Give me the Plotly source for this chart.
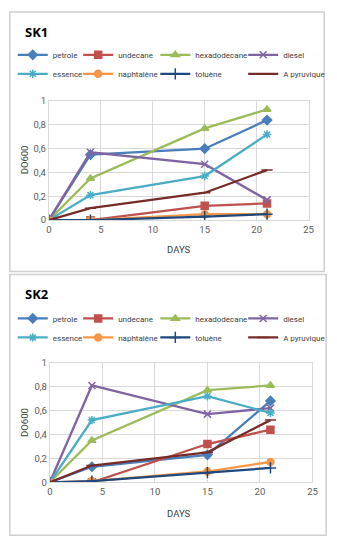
import plotly.graph_objects as go

days = [0, 4, 15, 21]
series_names = ["petrole", "undecane", "hexadodecane", "diesel",
                "essence", "naphtalène", "toluène", "A pyruvique"]

sk1_petrole = [0, 0.55, 0.60, 0.84]
sk1_undecane = [0, 0.0, 0.12, 0.14]
sk1_hexadodecane = [0, 0.35, 0.77, 0.93]
sk1_diesel = [0, 0.57, 0.47, 0.17]
sk1_essence = [0, 0.21, 0.37, 0.72]
sk1_naphtalene = [0, 0.0, 0.05, 0.05]
sk1_toluene = [0, 0.0, 0.03, 0.05]
sk1_pyruvique = [0, 0.10, 0.23, 0.42]

sk2_petrole = [0, 0.13, 0.23, 0.68]
sk2_undecane = [0, 0.0, 0.32, 0.44]
sk2_hexadodecane = [0, 0.35, 0.77, 0.81]
sk2_diesel = [0, 0.81, 0.57, 0.62]
sk2_essence = [0, 0.52, 0.72, 0.58]
sk2_naphtalene = [0, 0.01, 0.09, 0.17]
sk2_toluene = [0, 0.01, 0.08, 0.12]
sk2_pyruvique = [0, 0.14, 0.25, 0.52]

sk1 = [sk1_petrole, sk1_undecane, sk1_hexadodecane, sk1_diesel,
       sk1_essence, sk1_naphtalene, sk1_toluene, sk1_pyruvique]
sk2 = [sk2_petrole, sk2_undecane, sk2_hexadodecane, sk2_diesel,
       sk2_essence, sk2_naphtalene, sk2_toluene, sk2_pyruvique]

colors = ["#4A7EBB", "#C0504D", "#9BBB59", "#8064A2",
          "#4BACC6", "#F79646", "#1F497D", "#772C2A"]
symbols = ["diamond", "square", "triangle-up", "x-thin-open",
           "asterisk-open", "circle", "cross-thin-open", "line-ew-open"]
sizes = [7, 7, 7, 7, 7, 7, 8, 8]

FONT = "Roboto, Liberation Sans, sans-serif"
W, H = 337, 550


def px_x(p):
    return p / W


def px_y(p):
    return 1 - p / H


# legend column starts (px) and row top for each panel
legend_cols_px = [10, 77, 156, 246]
legend_tops_px = [35, 304]

fig = go.Figure()
legend_layout = {}
for k, (data, xa, ya) in enumerate([(sk1, "x", "y"), (sk2, "x2", "y2")]):
    for i, name in enumerate(series_names):
        col = i % 4
        lg_idx = k * 4 + col + 1
        lg = "legend" if lg_idx == 1 else "legend%d" % lg_idx
        fig.add_trace(go.Scatter(
            x=days, y=data[i], name=name, mode="lines+markers",
            xaxis=xa, yaxis=ya, legend=lg,
            line=dict(color=colors[i], width=2.3),
            marker=dict(symbol=symbols[i], size=sizes[i], color=colors[i],
                        line=dict(color=colors[i], width=1.5)),
        ))
        legend_layout[lg] = dict(
            orientation="v", x=px_x(legend_cols_px[col]), y=px_y(legend_tops_px[k]),
            xanchor="left", yanchor="top",
            font=dict(family=FONT, size=8, color="#404040"),
            bgcolor="rgba(0,0,0,0)", itemwidth=30, tracegroupgap=0,
            traceorder="normal",
        )

axis_common = dict(range=[0, 25], dtick=5, showgrid=True, gridcolor="#D9D9D9",
                   zeroline=False, showline=True, linecolor="#D9D9D9", mirror=True,
                   ticks="", tickfont=dict(family=FONT, size=9.5, color="#595959"),
                   fixedrange=True)
yaxis_common = dict(range=[0, 1], dtick=0.2, showgrid=True, gridcolor="#D9D9D9",
                    zeroline=False, showline=True, linecolor="#D9D9D9", mirror=True,
                    ticks="", tickfont=dict(family=FONT, size=9.5, color="#595959"),
                    fixedrange=True)

fig.update_layout(
    width=W, height=H,
    margin=dict(l=0, r=0, t=0, b=0),
    paper_bgcolor="white", plot_bgcolor="white",
    separators=", ",
    showlegend=True,
    xaxis=dict(domain=[px_x(47), px_x(313)], anchor="y", **axis_common),
    yaxis=dict(domain=[px_y(218.5), px_y(97)], anchor="x", **yaxis_common),
    xaxis2=dict(domain=[px_x(48), px_x(317)], anchor="y2", **axis_common),
    yaxis2=dict(domain=[px_y(486), px_y(364)], anchor="x2", **yaxis_common),
    **legend_layout,
)

shapes = []
for top, bottom, right in [(6, 271, 329), (274, 540, 331)]:
    shapes.append(dict(type="rect", xref="paper", yref="paper",
                       x0=px_x(7), x1=px_x(right), y0=px_y(bottom), y1=px_y(top),
                       line=dict(color="#CFCFCF", width=1.5), layer="below"))
fig.update_layout(shapes=shapes)

annots = []
for title, ty, days_y, do_y in [("SK1", 27, 248, 157), ("SK2", 294, 518, 425)]:
    annots.append(dict(text="<b>" + title + "</b>", x=px_x(20), y=px_y(ty), xref="paper", yref="paper",
                       xanchor="left", yanchor="middle", showarrow=False,
                       font=dict(family="Open Sans, sans-serif", size=13, color="#000000")))
    annots.append(dict(text="DAYS", x=px_x(180), y=px_y(days_y), xref="paper", yref="paper",
                       xanchor="center", yanchor="middle", showarrow=False,
                       font=dict(family=FONT, size=9.5, color="#404040")))
    annots.append(dict(text="DO600", x=px_x(22), y=px_y(do_y), xref="paper", yref="paper",
                       xanchor="center", yanchor="middle", showarrow=False, textangle=-90,
                       font=dict(family=FONT, size=9.5, color="#404040")))
fig.update_layout(annotations=annots)

fig.write_html("out.html", config={"displayModeBar": False},
               post_script="document.body.style.margin='0';")
